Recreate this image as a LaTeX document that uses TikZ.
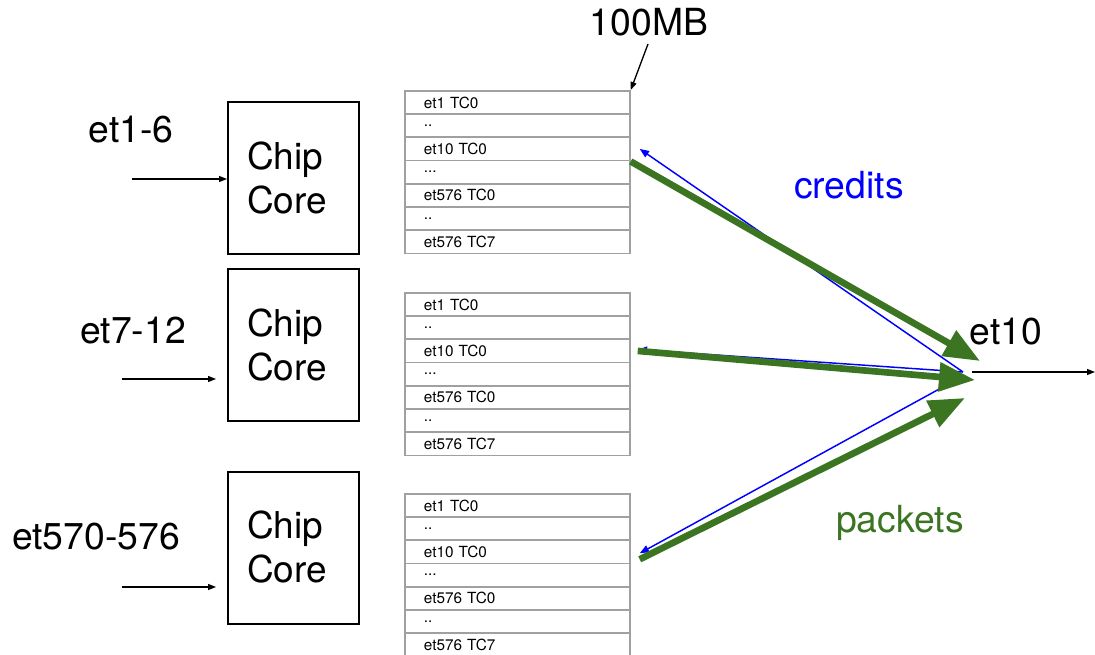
\documentclass[tikz,border=0pt]{standalone}
\usepackage{fontspec}
\setmainfont{TeX Gyre Heros}
\usetikzlibrary{arrows.meta}
\definecolor{pktgreen}{RGB}{59,117,34}
\definecolor{tblgray}{RGB}{160,160,160}
\newcommand\myrowtext[1]{\ifcase#1\or et1 TC0\or ..\or et10 TC0\or ...\or et576 TC0\or ..\or et576 TC7\fi}
\begin{document}
\begin{tikzpicture}[x=0.75pt,y=-0.75pt,
  big/.style={font=\fontsize{28}{33}\selectfont, inner sep=0pt},
  corebox/.style={draw=black, line width=1.5pt, rectangle, text width=69.75pt, inner xsep=14.25pt, inner ysep=0pt,
    minimum height=114pt, align=left, font=\fontsize{27.75}{33}\selectfont},
  rowbox/.style={draw=tblgray, line width=1.3pt, rectangle, text width=140.25pt, inner xsep=14.25pt, inner ysep=0pt,
    minimum height=17.5pt, align=left, anchor=north west, font=\fontsize{11.5}{13}\selectfont},
  inarrow/.style={line width=1pt, -{Triangle[length=6pt,width=4.5pt]}},
  pkt/.style={draw=pktgreen, line width=5pt, -{Triangle[length=27pt,width=21pt]}},
  cred/.style={draw=blue, line width=1.1pt, -{Triangle[length=7pt,width=5.5pt]}}]
\useasboundingbox (0,0) rectangle (1095,655);

% chip cores
\node[corebox] (c1) at (293.5,178.5) {Chip\\Core};
\node[corebox] (c2) at (293.5,345) {Chip\\Core};
\node[corebox] (c3) at (293.5,547.5) {Chip\\Core};

% input labels
\node[big] (l1) at (131,130) {et1-6};
\node[big] (l2) at (133,331) {et7-12};
\node[big] (l3) at (96,537) {et570-576};

% input arrows
\coordinate (in1) at (132,179);
\coordinate (in2) at (122,379);
\coordinate (in3) at (122,587);
\draw[inarrow] (in1) -- (in1 -| c1.west);
\draw[inarrow] (in2) -- ([xshift=-8.25pt]in2 -| c2.west);
\draw[inarrow] (in3) -- ([xshift=-8.25pt]in3 -| c3.west);

% tables
\foreach \t/\top in {1/90,2/292,3/493}{
  \foreach \i in {1,2,3,4,5,6,7}{
    \node[rowbox] (t\t r\i) at (404,{\top+(\i-1)*23.2}) {\myrowtext{\i}};
  }
}

% 100MB
\node[big] (mb) at (649,22) {100MB};
\coordinate (mbs) at (648,44);
\draw[inarrow] (mbs) -- (t1r1.north east);

% hub / et10
\node[big] (et10) at (1006,332) {et10};
\coordinate (hub) at (963,372);
\coordinate (hubout) at (972,372);
\coordinate (out) at (1095,372);
\draw[inarrow] (hubout) -- (out);
\coordinate (g1) at (980,361);
\coordinate (g2) at (975,380);
\coordinate (g3) at (965,398);

% credits (blue)
\draw[cred] (hub) -- ([xshift=6.75pt]t1r3.east);
\draw[cred] (hub) -- ([xshift=5.25pt,yshift=1pt]t2r3.east);
\draw[cred] ([yshift=-3pt]hub) -- ([xshift=6.75pt,yshift=-1pt]t3r3.east);

% packets (green)
\draw[pkt] (t1r3.south east) -- (g1);
\draw[pkt] ([xshift=5.25pt]t2r3.east) -- (g2);
\draw[pkt] ([xshift=6.75pt,yshift=-5.5pt]t3r3.east) -- (g3);

\node[big, text=blue] (cr) at (849,185) {credits};
\node[big, text=pktgreen] (pk) at (900,523) {packets};
\end{tikzpicture}
\end{document}
